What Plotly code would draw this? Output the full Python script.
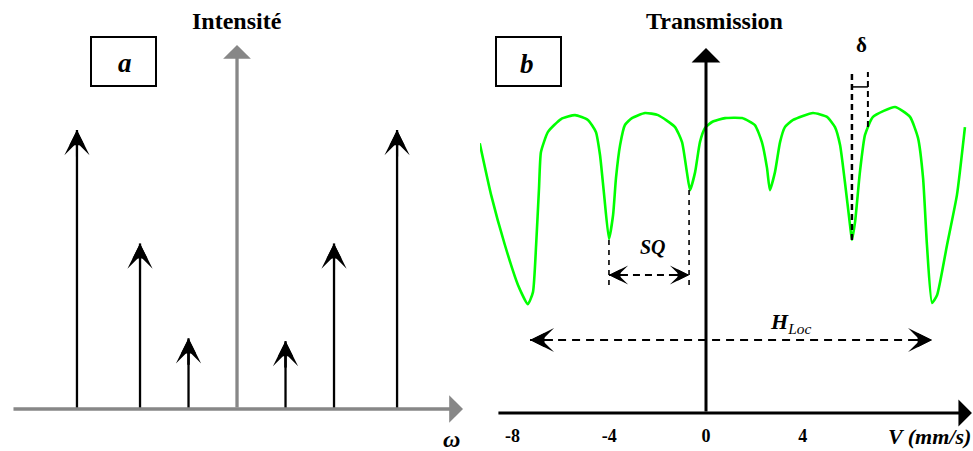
import plotly.graph_objects as go

W, H = 973, 451

# ---------------- Panel a : line spectrum ----------------
omega_lines = [-3.3, -2.0, -1.0, 1.0, 2.0, 3.3]
line_intensity = [3.0, 1.78, 0.76, 0.73, 1.78, 3.0]

# ---------------- Panel b : Mössbauer transmission ----------------
velocity = [-9.35, -8.88, -8.31, -7.77, -7.36, -7.15, -7.02, -6.90, -6.82, -6.53,
            -5.99, -5.41, -4.88, -4.55, -4.38, -4.21, -4.01, -3.84, -3.72, -3.55,
            -3.35, -3.06, -2.52, -1.98, -1.28, -0.99, -0.79, -0.66, -0.45, -0.25,
            -0.04, 0.25, 0.79, 1.49, 2.02, 2.31, 2.52, 2.64, 2.85, 3.06,
            3.26, 3.60, 4.42, 5.00, 5.33, 5.54, 5.74, 5.95, 6.03, 6.16,
            6.36, 6.57, 6.90, 7.81, 8.43, 8.76, 8.97, 9.13, 9.34, 9.55,
            9.96, 10.37, 10.70]
transmission = [89.9, 72.7, 56.0, 42.7, 36.3, 40.3, 56.0, 75.0, 87.0, 93.7,
                98.0, 99.3, 97.7, 93.7, 86.0, 72.7, 58.0, 66.0, 78.3, 89.3,
                96.0, 98.3, 100.0, 99.3, 95.3, 90.3, 80.3, 74.3, 80.3, 90.3,
                95.0, 97.0, 98.3, 98.3, 96.0, 90.3, 81.7, 74.3, 80.3, 90.3,
                95.3, 97.7, 100.0, 98.7, 95.3, 89.3, 77.0, 62.7, 57.7, 63.7,
                80.3, 92.7, 98.7, 102.0, 98.7, 91.7, 78.3, 56.0, 36.7, 39.3,
                56.0, 72.7, 95.3]
tick_vals = [-8, -4, 0, 4]
tick_text = ["-8", "-4", "0", "4"]

# annotation spans
sq_span = [-4.01, -0.70]
sq_level = 46.0
sq_tops = [57.7, 74.3]
sq_bottom = 41.0
hloc_span = [-7.27, 9.34]
hloc_level = 24.3
delta_span = [6.03, 6.69]
delta_left_range = [57.7, 113.0]
delta_right_range = [95.3, 113.7]
delta_bar = 108.7

SERIF = "Liberation Serif"
GRAY = "#878787"


def px(x):
    return x / W


def py(y):
    return 1 - y / H


fig = go.Figure()

# stems of panel a
sx, sy = [], []
for w, i in zip(omega_lines, line_intensity):
    sx += [w, w, None]
    sy += [0, i, None]
fig.add_trace(go.Scatter(x=sx, y=sy, mode="lines", xaxis="x", yaxis="y",
                         line=dict(color="black", width=2.3), hoverinfo="skip"))

# transmission curve
fig.add_trace(go.Scatter(x=velocity, y=transmission, mode="lines", xaxis="x2", yaxis="y2",
                         line=dict(color="#00ff00", width=2.6, shape="spline", smoothing=0.5),
                         hoverinfo="skip"))

ann = []
shapes = []


def arrow(x, y, ax, ay, xr, yr, head, size, width, color):
    ann.append(dict(x=x, y=y, ax=ax, ay=ay, xref=xr, yref=yr, axref=xr, ayref=yr,
                    text="", showarrow=True, arrowhead=head, arrowsize=size,
                    arrowwidth=width, arrowcolor=color, standoff=0))


def barbed(x, y, ax, ay, xr, yr, scale):
    # filled barbed arrowhead: barbed outline + inner filled triangle
    arrow(x, y, ax, ay, xr, yr, 3, scale / 2.0, 2.0, "black")
    arrow(x, y, ax, ay, xr, yr, 2, scale * 0.72 / 2.0, 2.0, "black")


# stem heads
for w, i in zip(omega_lines, line_intensity):
    barbed(w, i, w, i - 0.3, "x", "y", 4.2)

# gray axes of panel a
arrow(4.66, 0, -4.64, 0, "x", "y", 1, 1.4, 3.3, GRAY)
arrow(0, 3.914, 0, 0, "x", "y", 1, 1.4, 3.3, GRAY)

# black axes of panel b
arrow(10.99, 0, -8.64, 0, "x2", "y2", 1, 1.5, 3, "black")
arrow(0, 121.67, 0, 0, "x2", "y2", 1, 1.6, 3, "black")

# SQ construction
for v, top in zip(sq_span, sq_tops):
    shapes.append(dict(type="line", xref="x2", yref="y2", x0=v, x1=v, y0=top, y1=sq_bottom,
                       line=dict(color="black", width=1.6, dash="5px,5px")))
shapes.append(dict(type="line", xref="x2", yref="y2", x0=sq_span[0], x1=sq_span[1],
                   y0=sq_level, y1=sq_level, line=dict(color="black", width=2, dash="7px,5px")))
barbed(sq_span[0], sq_level, sq_span[0] + 0.8, sq_level, "x2", "y2", 3.2)
barbed(sq_span[1], sq_level, sq_span[1] - 0.8, sq_level, "x2", "y2", 3.2)

# H_Loc construction
shapes.append(dict(type="line", xref="x2", yref="y2", x0=hloc_span[0], x1=hloc_span[1],
                   y0=hloc_level, y1=hloc_level, line=dict(color="black", width=2, dash="8px,6px")))
barbed(hloc_span[0], hloc_level, hloc_span[0] + 1.0, hloc_level, "x2", "y2", 4.0)
barbed(hloc_span[1], hloc_level, hloc_span[1] - 1.0, hloc_level, "x2", "y2", 4.0)

# delta construction
shapes.append(dict(type="line", xref="x2", yref="y2", x0=delta_span[0], x1=delta_span[0],
                   y0=delta_left_range[0], y1=delta_left_range[1],
                   line=dict(color="black", width=2.5, dash="6px,4px")))
shapes.append(dict(type="line", xref="x2", yref="y2", x0=delta_span[1], x1=delta_span[1],
                   y0=delta_right_range[0], y1=delta_right_range[1],
                   line=dict(color="black", width=2, dash="6px,4px")))
shapes.append(dict(type="line", xref="x2", yref="y2", x0=delta_span[0], x1=delta_span[1],
                   y0=delta_bar, y1=delta_bar, line=dict(color="black", width=1.5)))

# label boxes
for x0, x1 in [(91, 156), (496, 561)]:
    shapes.append(dict(type="rect", xref="paper", yref="paper", x0=px(x0), x1=px(x1),
                       y0=py(86), y1=py(37), line=dict(color="black", width=2),
                       fillcolor="rgba(0,0,0,0)"))


def label(text, x, y, size, xanchor="center"):
    ann.append(dict(x=px(x), y=py(y), xref="paper", yref="paper", text=text, showarrow=False,
                    xanchor=xanchor, yanchor="middle",
                    font=dict(family=SERIF, size=size, color="black")))


label("<b>Intensité</b>", 237, 21, 24)
label("<b>Transmission</b>", 714, 21, 24)
label("<b><i>a</i></b>", 125, 63, 27)
label("<b><i>b</i></b>", 527, 64, 27)
label("<b>δ</b>", 861, 45, 21)
label("<b><i>SQ</i></b>", 653, 247, 20)
label("<b><i>H</i></b><sub><i>Loc</i></sub>", 790, 323, 22)
label("<b><i>V (mm/s)</i></b>", 973, 436, 22, xanchor="right")
label("<b><i>ω</i></b>", 451, 439, 24)

fig.update_layout(
    width=W, height=H,
    margin=dict(l=0, r=0, t=0, b=0),
    paper_bgcolor="white", plot_bgcolor="white",
    showlegend=False,
    xaxis=dict(domain=[0, px(480)], range=[-4.887, 5.010], visible=False, fixedrange=True),
    yaxis=dict(domain=[py(409), 1], range=[0, 4.398], visible=False, fixedrange=True),
    xaxis2=dict(domain=[px(480), 1], range=[-9.339, 11.033], anchor="y2",
                showline=False, showgrid=False, zeroline=False,
                tickvals=tick_vals, ticktext=tick_text,
                ticks="outside", ticklen=6, tickcolor="rgba(0,0,0,0)",
                tickfont=dict(family=SERIF, size=18, color="black", weight="bold")),
    yaxis2=dict(domain=[py(413), 1], range=[0, 137.67], anchor="x2", visible=False),
    annotations=ann,
    shapes=shapes,
)

fig.write_html("out.html", config={"displayModeBar": False},
               post_script="document.body.style.margin='0';document.body.style.overflow='hidden';")
